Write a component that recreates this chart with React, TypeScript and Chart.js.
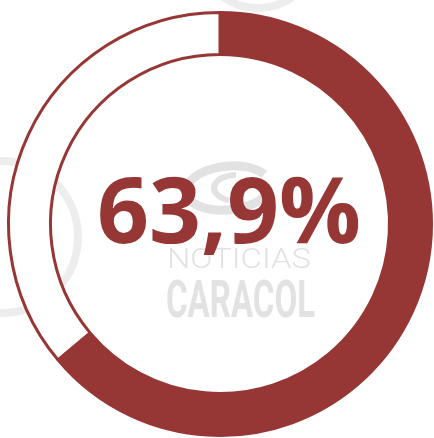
import React, { useEffect, useRef } from "react";
import { Chart, registerables } from "chart.js";

Chart.register(...registerables);

const labels = ["Sí", "No"];
const values = [63.9, 36.1];
const centerLabel = "63,9%";
const watermarkTop = "NOTICIAS";
const watermarkBottom = "CARACOL";

const RED = "#973735";
const GRAY = "#e2e2e2";

export default function App() {
  const ref = useRef<HTMLCanvasElement>(null);

  useEffect(() => {
    const canvas = ref.current!;

    const background = {
      id: "background",
      beforeDatasetsDraw(chart: any) {
        const ctx = chart.ctx as CanvasRenderingContext2D;
        ctx.save();
        ctx.strokeStyle = "#ededed";
        ctx.lineWidth = 8;
        ctx.beginPath();
        ctx.arc(2, 237, 76, 0, Math.PI * 2);
        ctx.stroke();
        ctx.beginPath();
        ctx.arc(258, -52, 60, 0, Math.PI * 2);
        ctx.stroke();
        ctx.restore();
      },
    };

    const watermark = {
      id: "watermark",
      afterDatasetsDraw(chart: any) {
        const ctx = chart.ctx as CanvasRenderingContext2D;
        ctx.save();
        // swoosh of the logo
        ctx.strokeStyle = GRAY;
        ctx.lineWidth = 9;
        ctx.beginPath();
        ctx.ellipse(228, 188, 42, 22, -0.1, Math.PI * 0.15, Math.PI * 1.85);
        ctx.stroke();
        ctx.lineWidth = 6;
        ctx.beginPath();
        ctx.ellipse(236, 188, 22, 13, 0, Math.PI * 0.6, Math.PI * 1.5);
        ctx.stroke();

        ctx.fillStyle = GRAY;
        ctx.textBaseline = "alphabetic";
        ctx.textAlign = "left";
        // NOTICIAS
        ctx.font = "300 28px Roboto";
        let w = ctx.measureText(watermarkTop).width;
        ctx.save();
        ctx.translate(167, 268);
        ctx.scale(144 / w, 1);
        ctx.fillText(watermarkTop, 0, 0);
        ctx.restore();
        // CARACOL
        ctx.font = "bold 52px Roboto";
        w = ctx.measureText(watermarkBottom).width;
        ctx.save();
        ctx.translate(166, 317);
        ctx.scale(149 / w, 1);
        ctx.fillText(watermarkBottom, 0, 0);
        ctx.restore();

        // center value
        ctx.fillStyle = RED;
        ctx.textAlign = "center";
        ctx.font = "bold 91px 'Open Sans'";
        ctx.fillText(centerLabel, 229, 243);
        ctx.restore();
      },
    };

    const chart = new Chart(canvas, {
      type: "doughnut",
      data: {
        labels,
        datasets: [
          {
            data: values,
            backgroundColor: [RED, "#ffffff"],
            borderColor: RED,
            borderWidth: 3,
          },
        ],
      },
      options: {
        responsive: false,
        animation: false,
        radius: 211.5,
        cutout: "80.14%",
        layout: { padding: 0 },
        plugins: {
          legend: { display: false },
          tooltip: { enabled: false },
        },
      } as any,
      plugins: [background, watermark],
    });

    return () => chart.destroy();
  }, []);

  return (
    <div
      style={{
        position: "fixed",
        left: 0,
        top: 0,
        width: 434,
        height: 438,
        overflow: "hidden",
        background: "#ffffff",
      }}
    >
      <canvas ref={ref} width={440} height={448} style={{ display: "block" }} />
    </div>
  );
}
